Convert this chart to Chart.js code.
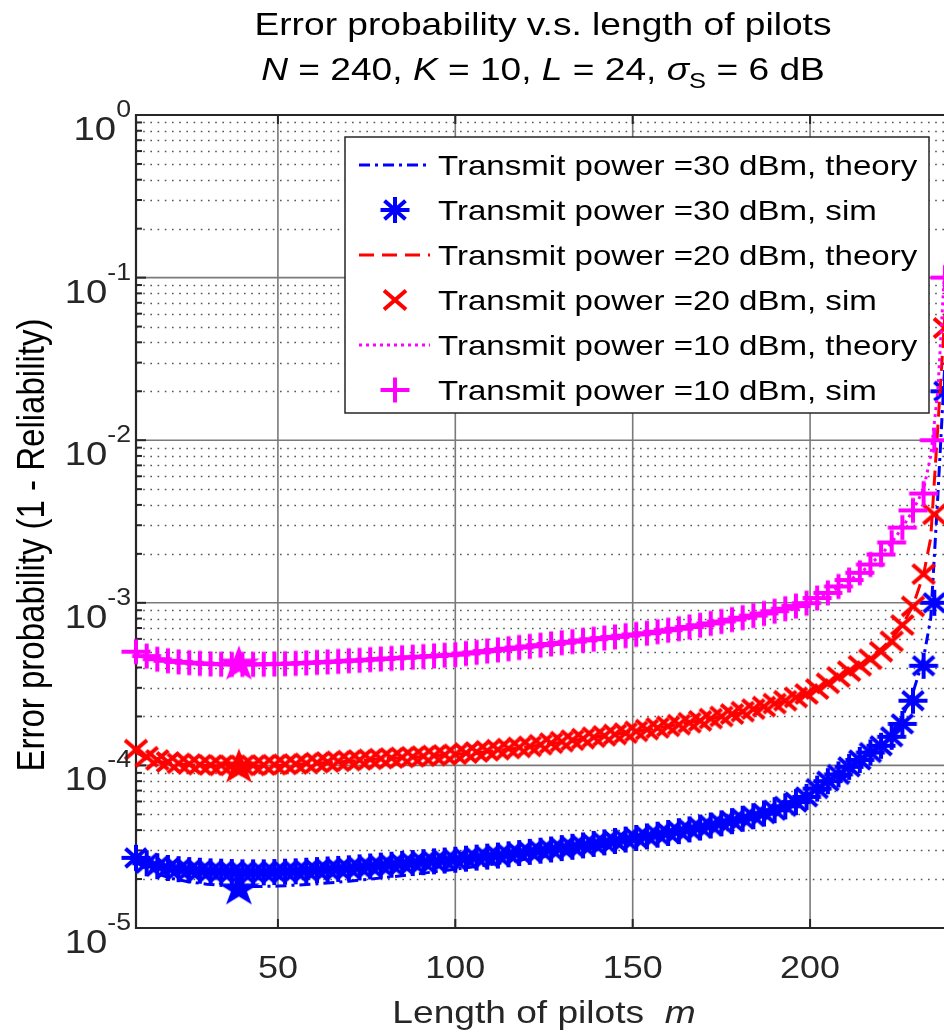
<!DOCTYPE html>
<html lang="en">
<head>
<meta charset="UTF-8">
<title>Error probability v.s. length of pilots</title>
<script src="https://cdn.jsdelivr.net/npm/chart.js"></script>
<style>
    html, body { margin: 0; padding: 0; background: #fff; overflow: hidden; }
    #wrap { position: relative; width: 944px; height: 1035px; overflow: hidden; }
    canvas { position: absolute; left: 0; top: 0; }
</style>
</head>
<body>
<div id="wrap"><canvas id="chart" width="970" height="1035"></canvas></div>
<script>
// pilot lengths m used for the simulated points
const pilotLen = [10, 13, 16, 19, 22, 25, 28, 31, 34, 37,
    40, 43, 46, 49, 52, 55, 58, 61, 64, 67,
    70, 73, 76, 79, 82, 85, 88, 91, 94, 97,
    100, 103, 106, 109, 112, 115, 118, 121, 124, 127,
    130, 133, 136, 139, 142, 145, 148, 151, 154, 157,
    160, 163, 166, 169, 172, 175, 178, 181, 184, 187,
    190, 193, 196, 199, 202, 205, 208, 211, 214, 217,
    220, 223, 226, 229, 232, 235, 238];

const sim30 = [2.7e-5, 2.5e-5, 2.4e-5, 2.34e-5, 2.3e-5, 2.27e-5, 2.25e-5, 2.23e-5, 2.22e-5, 2.21e-5,
    2.2e-5, 2.2e-5, 2.2e-5, 2.21e-5, 2.22e-5, 2.23e-5, 2.25e-5, 2.27e-5, 2.29e-5, 2.31e-5,
    2.33e-5, 2.36e-5, 2.39e-5, 2.42e-5, 2.45e-5, 2.48e-5, 2.51e-5, 2.54e-5, 2.57e-5, 2.6e-5,
    2.63e-5, 2.67e-5, 2.71e-5, 2.75e-5, 2.79e-5, 2.84e-5, 2.89e-5, 2.94e-5, 2.99e-5, 3.04e-5,
    3.1e-5, 3.16e-5, 3.22e-5, 3.29e-5, 3.36e-5, 3.43e-5, 3.5e-5, 3.58e-5, 3.66e-5, 3.75e-5,
    3.84e-5, 3.94e-5, 4.04e-5, 4.15e-5, 4.27e-5, 4.4e-5, 4.54e-5, 4.7e-5, 4.87e-5, 5.06e-5,
    5.3e-5, 5.6e-5, 5.95e-5, 6.4e-5, 7.2e-5, 8.0e-5, 8.8e-5, 9.8e-5, 1.08e-4, 1.2e-4,
    1.32e-4, 1.5e-4, 1.8e-4, 2.5e-4, 4.1e-4, 1.0e-3, 2.0e-2];

const sim20 = [1.25e-4, 1.13e-4, 1.08e-4, 1.05e-4, 1.03e-4, 1.02e-4, 1.01e-4, 1.005e-4, 1.0e-4, 1.0e-4,
    1.0e-4, 1.0e-4, 1.005e-4, 1.01e-4, 1.015e-4, 1.02e-4, 1.03e-4, 1.04e-4, 1.05e-4, 1.06e-4,
    1.07e-4, 1.08e-4, 1.09e-4, 1.1e-4, 1.11e-4, 1.12e-4, 1.13e-4, 1.14e-4, 1.15e-4, 1.16e-4,
    1.17e-4, 1.19e-4, 1.21e-4, 1.23e-4, 1.25e-4, 1.27e-4, 1.29e-4, 1.31e-4, 1.34e-4, 1.37e-4,
    1.4e-4, 1.43e-4, 1.46e-4, 1.49e-4, 1.52e-4, 1.55e-4, 1.58e-4, 1.62e-4, 1.66e-4, 1.7e-4,
    1.74e-4, 1.78e-4, 1.83e-4, 1.88e-4, 1.94e-4, 2.0e-4, 2.07e-4, 2.14e-4, 2.22e-4, 2.3e-4,
    2.4e-4, 2.5e-4, 2.62e-4, 2.75e-4, 2.95e-4, 3.2e-4, 3.5e-4, 3.8e-4, 4.1e-4, 4.5e-4,
    5.0e-4, 5.8e-4, 7.3e-4, 9.5e-4, 1.5e-3, 3.5e-3, 4.9e-2];

const sim10 = [5.0e-4, 4.7e-4, 4.5e-4, 4.4e-4, 4.33e-4, 4.28e-4, 4.24e-4, 4.21e-4, 4.19e-4, 4.18e-4,
    4.18e-4, 4.18e-4, 4.19e-4, 4.2e-4, 4.22e-4, 4.24e-4, 4.27e-4, 4.3e-4, 4.33e-4, 4.36e-4,
    4.4e-4, 4.43e-4, 4.47e-4, 4.51e-4, 4.55e-4, 4.59e-4, 4.63e-4, 4.67e-4, 4.71e-4, 4.76e-4,
    4.8e-4, 4.88e-4, 4.96e-4, 5.05e-4, 5.13e-4, 5.22e-4, 5.31e-4, 5.4e-4, 5.49e-4, 5.58e-4,
    5.68e-4, 5.77e-4, 5.87e-4, 5.97e-4, 6.07e-4, 6.17e-4, 6.28e-4, 6.39e-4, 6.5e-4, 6.64e-4,
    6.78e-4, 6.93e-4, 7.1e-4, 7.28e-4, 7.47e-4, 7.67e-4, 7.88e-4, 8.1e-4, 8.34e-4, 8.6e-4,
    8.88e-4, 9.2e-4, 9.55e-4, 9.95e-4, 1.07e-3, 1.15e-3, 1.26e-3, 1.38e-3, 1.53e-3, 1.72e-3,
    1.98e-3, 2.35e-3, 2.9e-3, 3.7e-3, 4.7e-3, 1.0e-2, 1.0e-1];

// theory curves
const theoryLen = [10, 13, 16, 20, 25, 30, 35, 40, 45, 50,
    60, 70, 80, 90, 100, 110, 120, 130, 140, 150,
    160, 170, 180, 190, 200, 205, 210, 215, 220, 223,
    226, 229, 232, 234, 236, 238];

const theory30 = [2.55e-5, 2.3e-5, 2.15e-5, 2.02e-5, 1.92e-5, 1.86e-5, 1.82e-5, 1.8e-5, 1.8e-5, 1.81e-5,
    1.86e-5, 1.94e-5, 2.04e-5, 2.16e-5, 2.3e-5, 2.46e-5, 2.65e-5, 2.87e-5, 3.12e-5, 3.4e-5,
    3.75e-5, 4.15e-5, 4.65e-5, 5.3e-5, 6.3e-5, 7.2e-5, 8.5e-5, 1.05e-4, 1.35e-4, 1.6e-4,
    2.0e-4, 2.8e-4, 4.6e-4, 8.0e-4, 4.5e-3, 3.0e-2];

const theory20 = [1.2e-4, 1.11e-4, 1.06e-4, 1.03e-4, 1.01e-4, 1.0e-4, 0.99e-4, 0.99e-4, 0.99e-4, 1.0e-4,
    1.03e-4, 1.06e-4, 1.1e-4, 1.13e-4, 1.17e-4, 1.22e-4, 1.3e-4, 1.39e-4, 1.5e-4, 1.61e-4,
    1.74e-4, 1.9e-4, 2.1e-4, 2.38e-4, 2.8e-4, 3.15e-4, 3.65e-4, 4.3e-4, 5.2e-4, 6.0e-4,
    7.3e-4, 9.6e-4, 1.5e-3, 2.5e-3, 1.2e-2, 6.0e-2];

const theory10 = [4.9e-4, 4.65e-4, 4.5e-4, 4.38e-4, 4.3e-4, 4.24e-4, 4.2e-4, 4.18e-4, 4.18e-4, 4.2e-4,
    4.29e-4, 4.4e-4, 4.53e-4, 4.66e-4, 4.8e-4, 4.98e-4, 5.28e-4, 5.65e-4, 6.0e-4, 6.35e-4,
    6.78e-4, 7.35e-4, 8.0e-4, 8.88e-4, 1.02e-3, 1.14e-3, 1.32e-3, 1.58e-3, 1.98e-3, 2.35e-3,
    2.9e-3, 3.7e-3, 5.0e-3, 8.0e-3, 2.0e-2, 1.2e-1];

// optimal pilot length (filled stars)
const optLen = [39];
const opt30 = [1.78e-5];
const opt20 = [1.0e-4];
const opt10 = [4.3e-4];

const seriesLabels = [
    'Transmit power =30 dBm, theory', 'Transmit power =30 dBm, sim',
    'Transmit power =20 dBm, theory', 'Transmit power =20 dBm, sim',
    'Transmit power =10 dBm, theory', 'Transmit power =10 dBm, sim'
];
const xTicks = [50, 100, 150, 200];
const yTickExp = [-5, -4, -3, -2, -1, 0];

const BLUE = '#0000ff', RED = '#ff0000', MAGENTA = '#ff00ff', INK = '#262626';
const SX = 1.16; // the picture is stretched sideways
const FONT = "'Liberation Sans', Arial, Helvetica, sans-serif";

function pts(xs, ys) {
    return xs.map((x, i) => ({ x: x, y: ys[i] }));
}

// marker images (drawn a bit wider than tall like the picture)
function marker(kind, color) {
    const c = document.createElement('canvas');
    c.width = 44; c.height = 40;
    const g = c.getContext('2d');
    const cx = 22, cy = 20;
    g.strokeStyle = color;
    g.fillStyle = color;
    g.lineWidth = 4;
    const line = (x1, y1, x2, y2) => { g.beginPath(); g.moveTo(x1, y1); g.lineTo(x2, y2); g.stroke(); };
    if (kind === 'plus' || kind === 'aster') {
        const rx = 14.5, ry = kind === 'plus' ? 12.5 : 13;
        line(cx - rx, cy, cx + rx, cy);
        line(cx, cy - ry, cx, cy + ry);
    }
    if (kind === 'x' || kind === 'aster') {
        const rx = kind === 'x' ? 11 : 10.5, ry = kind === 'x' ? 9.5 : 9.2;
        line(cx - rx, cy - ry, cx + rx, cy + ry);
        line(cx - rx, cy + ry, cx + rx, cy - ry);
    }
    if (kind === 'penta') {
        const R = 19, r = R * 0.382;
        g.beginPath();
        for (let i = 0; i < 10; i++) {
            const a = -Math.PI / 2 + i * Math.PI / 5;
            const rr = i % 2 ? r : R;
            const px = cx + rr * Math.cos(a) * SX, py = cy + 2 + rr * Math.sin(a);
            if (i === 0) g.moveTo(px, py); else g.lineTo(px, py);
        }
        g.closePath();
        g.fill();
    }
    return c;
}

const mk = {
    aster: marker('aster', BLUE), x: marker('x', RED), plus: marker('plus', MAGENTA),
    starB: marker('penta', BLUE), starR: marker('penta', RED), starM: marker('penta', MAGENTA)
};

function theoryDs(label, data, color, dash) {
    return {
        label: label, data: data, borderColor: color, borderWidth: 3, borderDash: dash,
        pointRadius: 0, fill: false, tension: 0, clip: false
    };
}
function simDs(label, data, img) {
    return {
        label: label, data: data, showLine: false, pointStyle: img, pointRadius: 12,
        borderColor: 'transparent', backgroundColor: 'transparent', clip: false
    };
}

const datasets = [
    simDs('', pts(optLen, opt10), mk.starM),
    simDs('', pts(optLen, opt20), mk.starR),
    simDs('', pts(optLen, opt30), mk.starB),
    simDs(seriesLabels[5], pts(pilotLen, sim10), mk.plus),
    theoryDs(seriesLabels[4], pts(theoryLen, theory10), MAGENTA, [3, 4]),
    simDs(seriesLabels[3], pts(pilotLen, sim20), mk.x),
    theoryDs(seriesLabels[2], pts(theoryLen, theory20), RED, [15, 8]),
    simDs(seriesLabels[1], pts(pilotLen, sim30), mk.aster),
    theoryDs(seriesLabels[0], pts(theoryLen, theory30), BLUE, [11, 5, 3, 5])
];
const legendOrder = [8, 7, 6, 5, 4, 3];

// text helpers
function runsWidth(ctx, runs) {
    let w = 0;
    runs.forEach(r => { ctx.font = r.font; w += ctx.measureText(r.t).width * SX; });
    return w;
}
function drawRuns(ctx, runs, x, y, align) {
    const w = runsWidth(ctx, runs);
    let cx = align === 'center' ? x - w / 2 : align === 'right' ? x - w : x;
    ctx.save();
    ctx.textAlign = 'left';
    ctx.textBaseline = 'alphabetic';
    runs.forEach(r => {
        ctx.font = r.font;
        ctx.fillStyle = r.color || INK;
        ctx.save();
        ctx.translate(cx, y + (r.dy || 0));
        ctx.scale(SX, 1);
        ctx.fillText(r.t, 0, 0);
        ctx.restore();
        cx += ctx.measureText(r.t).width * SX;
    });
    ctx.restore();
}

const frame = {
    id: 'frame',
    beforeDatasetsDraw(chart) {
        const ctx = chart.ctx;
        const { left, right, top, bottom } = chart.chartArea;
        const xs = chart.scales.x, ys = chart.scales.y;
        ctx.save();
        // minor grid, dotted
        ctx.strokeStyle = '#555555';
        ctx.lineWidth = 1.3;
        ctx.setLineDash([1.6, 5.6]);
        for (let d = -5; d < 0; d++) {
            for (let k = 2; k <= 9; k++) {
                const y = Math.round(ys.getPixelForValue(k * Math.pow(10, d))) + 0.5;
                ctx.beginPath(); ctx.moveTo(left, y); ctx.lineTo(right, y); ctx.stroke();
            }
        }
        // major grid
        ctx.setLineDash([]);
        ctx.strokeStyle = '#7a7a7a';
        ctx.lineWidth = 1.6;
        yTickExp.forEach(e => {
            const y = ys.getPixelForValue(Math.pow(10, e));
            ctx.beginPath(); ctx.moveTo(left, y); ctx.lineTo(right, y); ctx.stroke();
        });
        xTicks.forEach(v => {
            const x = xs.getPixelForValue(v);
            ctx.beginPath(); ctx.moveTo(x, top); ctx.lineTo(x, bottom); ctx.stroke();
        });
        // ticks
        ctx.strokeStyle = INK;
        ctx.lineWidth = 2;
        yTickExp.forEach(e => {
            const y = ys.getPixelForValue(Math.pow(10, e));
            ctx.beginPath(); ctx.moveTo(left, y); ctx.lineTo(left + 10, y); ctx.stroke();
        });
        for (let d = -5; d < 0; d++) {
            for (let k = 2; k <= 9; k++) {
                const y = ys.getPixelForValue(k * Math.pow(10, d));
                ctx.beginPath(); ctx.moveTo(left, y); ctx.lineTo(left + 6, y); ctx.stroke();
            }
        }
        xTicks.forEach(v => {
            const x = xs.getPixelForValue(v);
            ctx.beginPath(); ctx.moveTo(x, bottom); ctx.lineTo(x, bottom - 9); ctx.stroke();
            ctx.beginPath(); ctx.moveTo(x, top); ctx.lineTo(x, top + 9); ctx.stroke();
        });
        // box
        ctx.lineWidth = 2.2;
        ctx.beginPath();
        ctx.moveTo(right, top); ctx.lineTo(left, top); ctx.lineTo(left, bottom); ctx.lineTo(right, bottom);
        ctx.stroke();
        ctx.restore();
    },
    afterDraw(chart) {
        const ctx = chart.ctx;
        const { left, top, bottom } = chart.chartArea;
        const xs = chart.scales.x, ys = chart.scales.y;
        const f = (s, it) => (it ? 'italic ' : '') + s + 'px ' + FONT;

        // tick labels
        xTicks.forEach(v => {
            drawRuns(ctx, [{ t: String(v), font: f(31) }], xs.getPixelForValue(v), bottom + 50, 'center');
        });
        yTickExp.forEach(e => {
            const y = ys.getPixelForValue(Math.pow(10, e));
            drawRuns(ctx, [
                { t: '10', font: f(33) },
                { t: e === 0 ? '0' : '-' + (-e), font: f(23), dy: -23 }
            ], left - 5, y + 25, 'right');
        });

        // axis titles
        drawRuns(ctx, [{ t: 'Length of pilots  ', font: f(32) }, { t: 'm', font: f(32, true) }],
            544, 1023, 'center');
        ctx.save();
        ctx.translate(44, 545);
        ctx.rotate(-Math.PI / 2);
        ctx.font = f(33);
        ctx.textAlign = 'center';
        ctx.scale(1, SX);
        ctx.fillStyle = '#000';
        ctx.fillText('Error probability (1 - Reliability)', 0, 0);
        ctx.restore();

        // title
        drawRuns(ctx, [{ t: 'Error probability v.s. length of pilots', font: f(32), color: '#000' }], 543, 35, 'center');
        const F = f(32), I = f(32, true);
        drawRuns(ctx, [
            { t: 'N', font: I, color: '#000' }, { t: ' = 240, ', font: F, color: '#000' },
            { t: 'K', font: I, color: '#000' }, { t: ' = 10, ', font: F, color: '#000' },
            { t: 'L', font: I, color: '#000' }, { t: ' = 24, ', font: F, color: '#000' },
            { t: 'σ', font: I, color: '#000' }, { t: 'S', font: f(22), dy: 8, color: '#000' },
            { t: ' = 6 dB', font: F, color: '#000' }
        ], 543, 80, 'center');

        // legend
        const bx = 345, by = 137, bw = 584, bh = 276;
        ctx.save();
        ctx.fillStyle = '#fff';
        ctx.fillRect(bx, by, bw, bh);
        ctx.strokeStyle = INK;
        ctx.lineWidth = 1.5;
        ctx.strokeRect(bx, by, bw, bh);
        legendOrder.forEach((di, row) => {
            const ds = chart.data.datasets[di];
            const base = 175 + row * 45;
            const cy = base - 10;
            if (ds.showLine === false) {
                const img = ds.pointStyle;
                ctx.drawImage(img, 395 - img.width / 2, cy - img.height / 2);
            } else {
                ctx.strokeStyle = ds.borderColor;
                ctx.lineWidth = ds.borderWidth;
                ctx.setLineDash(ds.borderDash);
                ctx.beginPath(); ctx.moveTo(359, cy); ctx.lineTo(430, cy); ctx.stroke();
                ctx.setLineDash([]);
            }
            drawRuns(ctx, [{ t: ds.label, font: f(28.5), color: '#000' }], 438, base, 'left');
        });
        ctx.restore();
    }
};

new Chart(document.getElementById('chart').getContext('2d'), {
    type: 'line',
    data: { datasets: datasets },
    options: {
        responsive: false,
        animation: false,
        events: [],
        layout: { padding: { top: 115, right: 18, left: 0, bottom: 0 } },
        plugins: {
            legend: { display: false },
            title: { display: false },
            tooltip: { enabled: false }
        },
        scales: {
            x: {
                type: 'linear', min: 10, max: 240,
                grid: { display: false }, border: { display: false }, ticks: { display: false },
                afterFit(s) { s.height = 107; }
            },
            y: {
                type: 'logarithmic', min: 1e-5, max: 1,
                grid: { display: false }, border: { display: false }, ticks: { display: false },
                afterFit(s) { s.width = 136; }
            }
        }
    },
    plugins: [frame]
});
</script>
</body>
</html>
